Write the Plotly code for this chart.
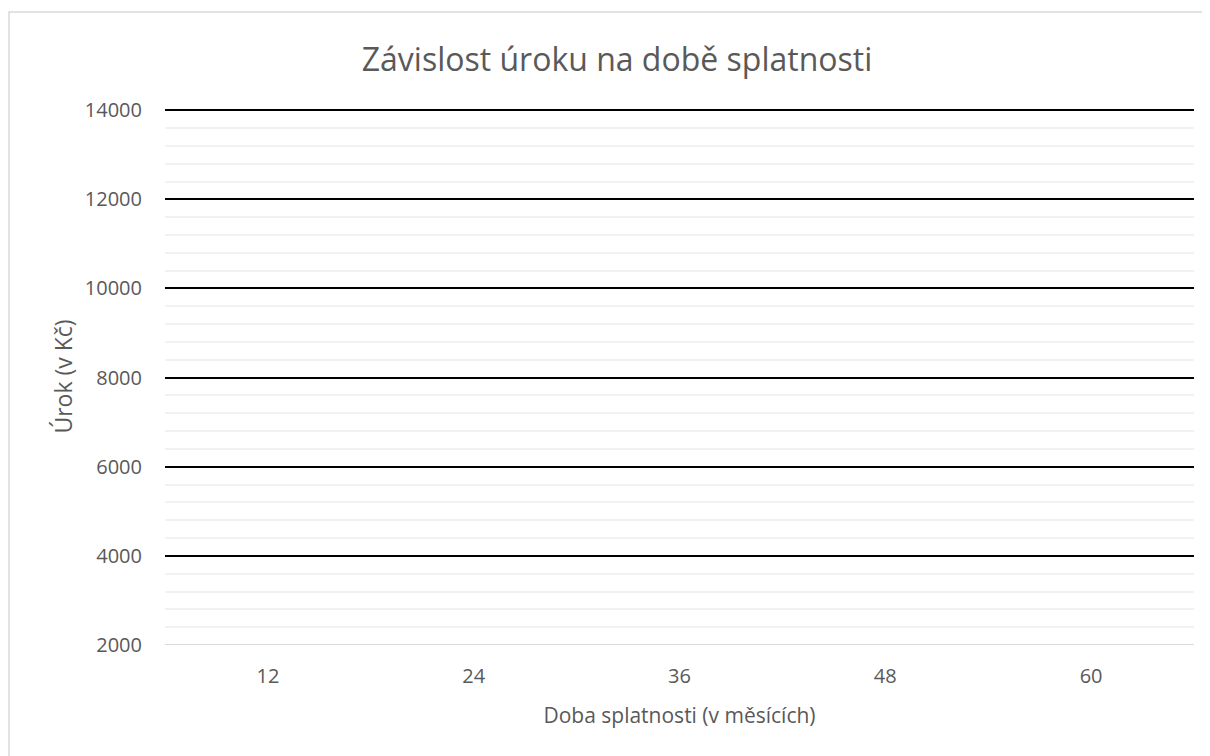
import plotly.graph_objects as go

# Data
categories = ["12", "24", "36", "48", "60"]
urok_values = [None, None, None, None, None]  # no visible data in the reference
y_ticks = [2000, 4000, 6000, 8000, 10000, 12000, 14000]
y_tick_labels = ["2000", "4000", "6000", "8000", "10000", "12000", "14000"]

TXT = "#595959"
FONT = "Open Sans, Liberation Sans, sans-serif"

# page body has an 8px margin, so the figure is drawn from (8, 8)
W, H = 1202, 748
L, R, T, B = 157, 16, 100, 111

fig = go.Figure()
fig.add_trace(go.Scatter(x=categories, y=urok_values, mode="lines",
                         line=dict(color="#4472C4", width=2.5), showlegend=False))

fig.update_layout(
    width=W, height=H,
    margin=dict(l=L, r=R, t=T, b=B),
    paper_bgcolor="white", plot_bgcolor="white",
    font=dict(family=FONT, color=TXT, size=20),
    title=dict(text="Závislost úroku na době splatnosti", x=(617 - 8) / W, xanchor="center",
               y=1 - 52 / H, yanchor="middle",
               font=dict(size=32, color=TXT, family=FONT)),
    showlegend=False,
)

fig.update_xaxes(
    type="category", range=[-0.5, 4.5],
    showgrid=False, zeroline=False, showline=False,
    ticks="", tickfont=dict(size=20, color=TXT), ticklabelstandoff=17,
    title=dict(text="Doba splatnosti (v měsících)", font=dict(size=21, color=TXT), standoff=20),
)

fig.update_yaxes(
    range=[2000, 14050], tickvals=y_ticks, ticktext=y_tick_labels,
    showgrid=True, gridcolor="#000000", gridwidth=2,
    zeroline=False, showline=False,
    ticks="", tickfont=dict(size=20, color=TXT), ticklabelstandoff=22,
    minor=dict(dtick=400, showgrid=True, gridcolor="#f2f2f2", gridwidth=1.5),
    title=dict(text="Úrok (v Kč)", font=dict(size=23, color=TXT), standoff=5),
)

# bottom axis line (gray) at 2000
fig.add_shape(type="line", xref="paper", yref="y", x0=0, x1=1, y0=2000, y1=2000,
              line=dict(color="#d9d9d9", width=2), layer="above")

# chart border (screen coords: left 8.5, top 12, extends beyond right/bottom)
pw = W - L - R
ph = H - T - B
fig.add_shape(type="rect", xref="paper", yref="paper",
              x0=(0.5 - L + 0.5) / pw, x1=(W + 20 - L) / pw,
              y0=(-(H + 20) + T + ph) / ph, y1=(T + ph - 4) / ph,
              line=dict(color="#d9d9d9", width=1.5), fillcolor="rgba(0,0,0,0)", layer="below")

fig.write_html("out.html")
